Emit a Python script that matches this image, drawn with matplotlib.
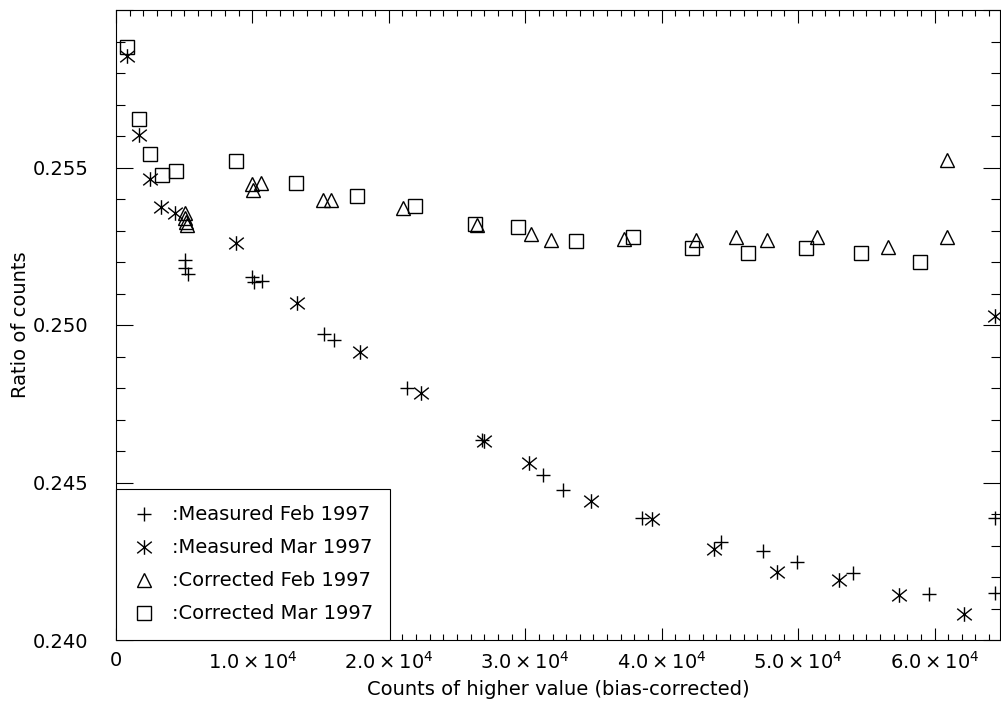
import matplotlib.pyplot as plt
from matplotlib.path import Path
from matplotlib.ticker import MultipleLocator, FixedLocator, FuncFormatter

# Measured Feb 1997 (+)
meas_feb_x = [5066, 5066, 5308, 9956, 10125, 10689, 15257, 16012, 21320, 26840,
              31290, 32800, 38548, 44340, 47463, 49912, 53988, 59560, 64400, 64400]
meas_feb_y = [0.25206, 0.25180, 0.25162, 0.25152, 0.25137, 0.25140, 0.24970, 0.24952,
              0.24799, 0.24635, 0.24524, 0.24476, 0.24386, 0.24310, 0.24283, 0.24247,
              0.24214, 0.24145, 0.24388, 0.24148]

# Measured Mar 1997 (*)
meas_mar_x = [836, 1694, 2500, 3306, 4333, 8783, 13255, 17896, 22346, 26987,
              30264, 34810, 39282, 43871, 48446, 52991, 57412, 62126, 64400]
meas_mar_y = [0.25854, 0.25603, 0.25463, 0.25374, 0.25355, 0.25259, 0.25070, 0.24913,
              0.24783, 0.24632, 0.24561, 0.24440, 0.24384, 0.24289, 0.24217, 0.24190,
              0.24143, 0.24083, 0.25029]

# Corrected Feb 1997 (triangles)
corr_feb_x = [5066, 5066, 5139, 5213, 9956, 10638, 10029, 15205, 15770, 21026,
              26452, 30432, 31877, 37250, 42507, 45440, 47713, 51378, 56554, 60909, 60909]
corr_feb_y = [0.25356, 0.25340, 0.25327, 0.25317, 0.25448, 0.25452, 0.25429, 0.25397,
              0.25397, 0.25370, 0.25317, 0.25289, 0.25270, 0.25272, 0.25270, 0.25280,
              0.25270, 0.25278, 0.25247, 0.25524, 0.25278]

# Corrected Mar 1997 (squares)
corr_mar_x = [836, 1694, 2500, 3358, 4384, 8805, 13204, 17698, 21950, 26327,
              29457, 33710, 37889, 42236, 46364, 50572, 54575, 58930]
corr_mar_y = [0.25883, 0.25654, 0.25543, 0.25476, 0.25490, 0.25522, 0.25452, 0.25410,
              0.25378, 0.25320, 0.25310, 0.25268, 0.25280, 0.25244, 0.25228, 0.25243,
              0.25230, 0.25199]

x_major = [0, 10000, 20000, 30000, 40000, 50000, 60000]
x_labels = ['0', r'$1.0\times10^{4}$', r'$2.0\times10^{4}$', r'$3.0\times10^{4}$',
            r'$4.0\times10^{4}$', r'$5.0\times10^{4}$', r'$6.0\times10^{4}$']
y_major = [0.240, 0.245, 0.250, 0.255, 0.260]

plt.rcParams['font.family'] = ['DejaVu Sans']
plt.rcParams['font.size'] = 14
plt.rcParams['mathtext.default'] = 'regular'

# IDL-like asterisk: vertical bar plus an X
star = Path([(0, -1), (0, 1), (-1, -0.8), (1, 0.8), (-1, 0.8), (1, -0.8)],
            [Path.MOVETO, Path.LINETO, Path.MOVETO, Path.LINETO, Path.MOVETO, Path.LINETO])

fig = plt.figure(figsize=(10.01, 7.09), dpi=100)
ax = fig.add_axes([116 / 1001, 69 / 709, 884 / 1001, 630 / 709])

mk = dict(linestyle='none', color='black', markerfacecolor='none',
          markeredgewidth=1.0, clip_on=False)
ax.plot(meas_feb_x, meas_feb_y, marker='+', markersize=10, label=':Measured Feb 1997', **mk)
ax.plot(meas_mar_x, meas_mar_y, marker=star, markersize=10.5, label=':Measured Mar 1997', **mk)
ax.plot(corr_feb_x, corr_feb_y, marker='^', markersize=10, label=':Corrected Feb 1997', **mk)
ax.plot(corr_mar_x, corr_mar_y, marker='s', markersize=10, label=':Corrected Mar 1997', **mk)

ax.set_xlim(0, 64800)
ax.set_ylim(0.240, 0.260)

ax.xaxis.set_major_locator(FixedLocator(x_major))
ax.set_xticklabels(x_labels)
ax.xaxis.set_minor_locator(MultipleLocator(1000))
ax.yaxis.set_major_locator(FixedLocator(y_major))
ax.yaxis.set_major_formatter(FuncFormatter(lambda v, p: '' if v > 0.2595 else '%.3f' % v))
ax.yaxis.set_minor_locator(MultipleLocator(0.001))

ax.tick_params(axis='both', which='both', direction='in', top=True, right=True,
               width=0.8, colors='black')
ax.tick_params(axis='x', which='major', length=9, pad=8)
ax.tick_params(axis='x', which='minor', length=4.5)
ax.tick_params(axis='y', which='major', length=12.5, pad=20)
ax.tick_params(axis='y', which='minor', length=6.5)
for s in ax.spines.values():
    s.set_linewidth(0.8)

ax.set_xlabel('Counts of higher value (bias-corrected)', labelpad=5)
ax.set_ylabel('Ratio of counts')
ax.yaxis.set_label_coords(-86 / 884, 0.5)

leg = ax.legend(loc='lower left', bbox_to_anchor=(0, 0), borderaxespad=0,
                fancybox=False, framealpha=1, edgecolor='black', handlelength=1.2,
                handletextpad=0.85, labelspacing=0.72, borderpad=0.85, fontsize=14)
leg.get_frame().set_linewidth(0.8)

fig.savefig('out.png', dpi=100)
